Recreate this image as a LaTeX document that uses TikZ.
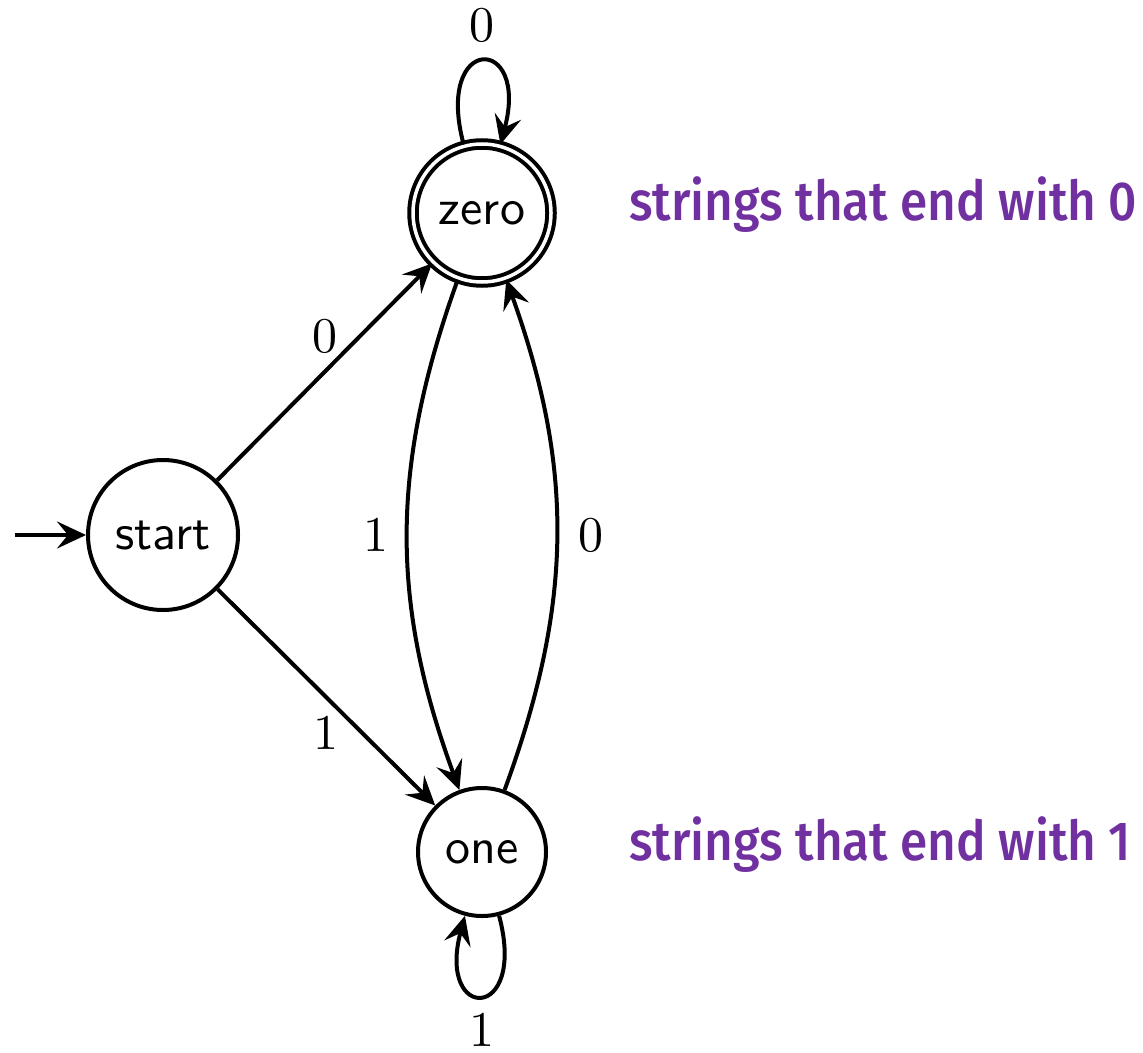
\documentclass[tikz,border=0pt]{standalone}
\usepackage{fontspec}
\newfontfamily\notefont{Fira Sans Medium}[FakeStretch=0.9]
\usetikzlibrary{arrows.meta}
\definecolor{notepurple}{RGB}{112,48,160}
\begin{document}
\begin{tikzpicture}[x=0.2pt,y=-0.2pt,
  >={Stealth[length=5.8pt, width=5.4pt, inset=2.2pt]},
  statenode/.style={circle, draw, thick, inner sep=0pt, font=\sffamily},
  accept/.style={double, double distance=0.7pt},
  link/.style={->, thick},
  sym/.style={font=\rmfamily, inner sep=3.33pt},
  note/.style={font=\notefont\fontsize{11}{13}\selectfont, text=notepurple,
    anchor=base west, inner sep=0pt}]
\useasboundingbox (0,0) rectangle (1143,1052);
% states
\node[statenode, minimum size=30pt] (start) at (163,535) {start};
\node[statenode, accept, minimum size=27.6pt] (zero) at (482,213) {zero};
\node[statenode, minimum size=25.6pt] (one) at (482,852) {one};
% initial arrow
\coordinate (entry) at (15,535);
\draw[link] (entry) -- (start);
% transitions
\draw[link] (start) -- node[sym, above] {0} (zero);
\draw[link] (start) -- node[sym, below] {1} (one);
\draw[link] (zero) to[bend right=20] node[sym, left] {1} (one);
\draw[link] (one) to[bend right=20] node[sym, right, inner sep=4pt] {0} (zero);
\draw[link] (zero) to[loop above, looseness=8] node[sym, above] {0} (zero);
\draw[link] (one) to[loop below, looseness=8.3] node[sym, below, inner sep=3pt] {1} (one);
% annotations
\node[note] (n0) at (628,220) {strings that end with 0};
\node[note] (n1) at (628,860) {strings that end with 1};
\end{tikzpicture}
\end{document}
